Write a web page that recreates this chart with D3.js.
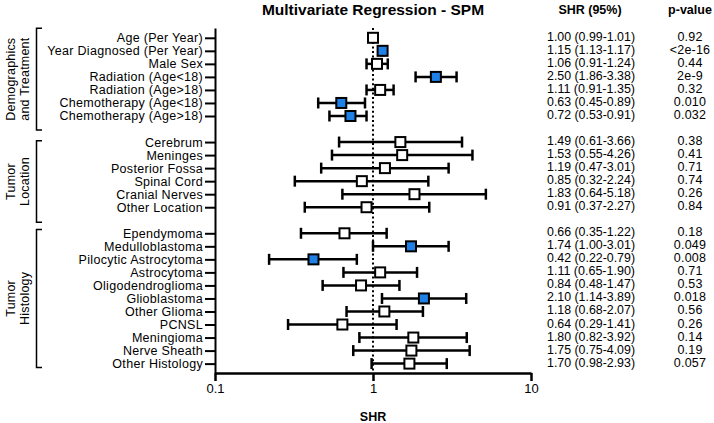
<!DOCTYPE html>
<html>
<head>
<meta charset="utf-8">
<script src="https://cdn.jsdelivr.net/npm/d3@7"></script>
<style>
  body { margin: 0; background: #fff; }
  svg text { font-family: "Liberation Sans", Arial, Helvetica, sans-serif; fill: #000; }
</style>
</head>
<body>
<div id="chart"></div>
<script>
// row labels, top to bottom
const labels = [
  'Age (Per Year)', 'Year Diagnosed (Per Year)', 'Male Sex', 'Radiation (Age<18)',
  'Radiation (Age>18)', 'Chemotherapy (Age<18)', 'Chemotherapy (Age>18)',
  'Cerebrum', 'Meninges', 'Posterior Fossa', 'Spinal Cord', 'Cranial Nerves', 'Other Location',
  'Ependymoma', 'Medulloblastoma', 'Pilocytic Astrocytoma', 'Astrocytoma', 'Oligodendroglioma',
  'Glioblastoma', 'Other Glioma', 'PCNSL', 'Meningioma', 'Nerve Sheath', 'Other Histology'
];
const groupNames = [['Demographics', 'and Treatment'], ['Tumor', 'Location'], ['Tumor', 'Histology']];
const groupSizes = [7, 6, 11];

const shr   = [1.00, 1.15, 1.06, 2.50, 1.11, 0.63, 0.72, 1.49, 1.53, 1.19, 0.85, 1.83, 0.91,
               0.66, 1.74, 0.42, 1.11, 0.84, 2.10, 1.18, 0.64, 1.80, 1.75, 1.70];
const lower = [0.99, 1.13, 0.91, 1.86, 0.91, 0.45, 0.53, 0.61, 0.55, 0.47, 0.32, 0.64, 0.37,
               0.35, 1.00, 0.22, 0.65, 0.48, 1.14, 0.68, 0.29, 0.82, 0.75, 0.98];
const upper = [1.01, 1.17, 1.24, 3.38, 1.35, 0.89, 0.91, 3.66, 4.26, 3.01, 2.24, 5.18, 2.27,
               1.22, 3.01, 0.79, 1.90, 1.47, 3.89, 2.07, 1.41, 3.92, 4.09, 2.93];
const pvalues = ['0.92', '<2e-16', '0.44', '2e-9', '0.32', '0.010', '0.032',
                 '0.38', '0.41', '0.71', '0.74', '0.26', '0.84',
                 '0.18', '0.049', '0.008', '0.71', '0.53', '0.018', '0.56', '0.26', '0.14', '0.19', '0.057'];
const significant = [false, true, false, true, false, true, true,
                     false, false, false, false, false, false,
                     false, true, true, false, false, true, false, false, false, false, false];
const xTicks = [0.1, 1, 10];

const width = 714;
const height = 423;
const blue = '#1f80e6';

// row positions: one empty row between groups
const rowIndex = [];
let pos = 0;
groupSizes.forEach((n, g) => {
  for (let k = 0; k < n; k++) rowIndex.push(pos++);
  pos++;
});
// bracket extents in row units
const bracketSpan = [[-0.73, 7.08], [7.9, 14.16], [14.7, 25.29]];

const svg = d3.select('#chart').append('svg')
  .attr('width', width)
  .attr('height', height);

const x = d3.scaleLog().domain([0.1, 10]).range([215, 531]);
const y = d3.scaleLinear().domain([-0.752, 25.72]).range([28, 373]);

// title and column headers
svg.append('text')
  .attr('x', 373).attr('y', 14.5)
  .attr('text-anchor', 'middle')
  .style('font-size', '15.5px').style('font-weight', 'bold')
  .text('Multivariate Regression - SPM');

svg.append('text')
  .attr('x', 590).attr('y', 13.5)
  .attr('text-anchor', 'middle')
  .style('font-size', '12.5px').style('font-weight', 'bold')
  .text('SHR (95%)');

svg.append('text')
  .attr('x', 690).attr('y', 13.5)
  .attr('text-anchor', 'middle')
  .style('font-size', '12.5px').style('font-weight', 'bold')
  .text('p-value');

// reference line at SHR = 1
svg.append('line')
  .attr('x1', x(1)).attr('x2', x(1))
  .attr('y1', 28).attr('y2', 373)
  .attr('stroke', '#000')
  .attr('stroke-width', 2)
  .attr('stroke-dasharray', '2,2.6');

// axes
const axisY = d3.axisLeft(y)
  .tickValues(rowIndex)
  .tickFormat((d, i) => labels[i])
  .tickSize(10)
  .tickSizeOuter(0)
  .tickPadding(2);

const gY = svg.append('g')
  .attr('transform', `translate(${x(0.1)},0)`)
  .call(axisY);
gY.select('.domain').attr('stroke-width', 2);
gY.selectAll('.tick line').attr('stroke-width', 2);
gY.selectAll('.tick text')
  .style('font-size', '12.5px')
  .style('letter-spacing', '0.3px')
  .attr('font-family', null);

const axisX = d3.axisBottom(x)
  .tickValues(xTicks)
  .tickFormat(d => d3.format('')(d))
  .tickSize(8)
  .tickSizeOuter(0)
  .tickPadding(3);

const gX = svg.append('g')
  .attr('transform', `translate(0,${y(25.72)})`)
  .call(axisX);
gX.select('.domain').attr('stroke-width', 2.5);
gX.selectAll('.tick line').attr('stroke-width', 2.5);
gX.selectAll('.tick text')
  .style('font-size', '13px')
  .attr('font-family', null);

svg.append('text')
  .attr('x', x(1)).attr('y', 420.5)
  .attr('text-anchor', 'middle')
  .style('font-size', '12.5px').style('font-weight', 'bold')
  .text('SHR');

// group brackets and labels
const brackets = svg.append('g');
bracketSpan.forEach((s, g) => {
  const top = y(s[0]);
  const bottom = y(s[1]);
  brackets.append('path')
    .attr('d', `M42,${top}H36.5V${bottom}H42`)
    .attr('fill', 'none')
    .attr('stroke', '#000')
    .attr('stroke-width', 1.5);
  const mid = (top + bottom) / 2;
  groupNames[g].forEach((line, j) => {
    brackets.append('text')
      .attr('transform', `translate(${15 + j * 13.5},${mid}) rotate(-90)`)
      .attr('text-anchor', 'middle')
      .style('font-size', '12.5px')
      .style('letter-spacing', '0.2px')
      .text(line);
  });
});

// error bars
const bars = svg.append('g');
labels.forEach((d, i) => {
  const cy = y(rowIndex[i]);
  bars.append('line')
    .attr('x1', x(lower[i])).attr('x2', x(upper[i]))
    .attr('y1', cy).attr('y2', cy)
    .attr('stroke', '#000').attr('stroke-width', 2.5);
  [lower[i], upper[i]].forEach(v => {
    bars.append('line')
      .attr('x1', x(v)).attr('x2', x(v))
      .attr('y1', cy - 5.5).attr('y2', cy + 5.5)
      .attr('stroke', '#000').attr('stroke-width', 2.5);
  });
});

// point estimates
const box = 10;
svg.append('g').selectAll('rect')
  .data(shr)
  .enter()
  .append('rect')
  .attr('x', d => x(d) - box / 2)
  .attr('y', (d, i) => y(rowIndex[i]) - box / 2)
  .attr('width', box)
  .attr('height', box)
  .attr('fill', (d, i) => significant[i] ? blue : '#fff')
  .attr('stroke', '#000')
  .attr('stroke-width', 2);

// table columns
const table = svg.append('g');
labels.forEach((d, i) => {
  const ty = y(rowIndex[i]) + 3;
  table.append('text')
    .attr('x', 547).attr('y', ty)
    .attr('textLength', 88)
    .attr('lengthAdjust', 'spacingAndGlyphs')
    .style('font-size', '12.5px')
    .text(`${shr[i].toFixed(2)} (${lower[i].toFixed(2)}-${upper[i].toFixed(2)})`);
  table.append('text')
    .attr('x', 690).attr('y', ty)
    .attr('text-anchor', 'middle')
    .style('font-size', '12.5px')
    .style('letter-spacing', '0.2px')
    .text(pvalues[i]);
});
</script>
</body>
</html>
